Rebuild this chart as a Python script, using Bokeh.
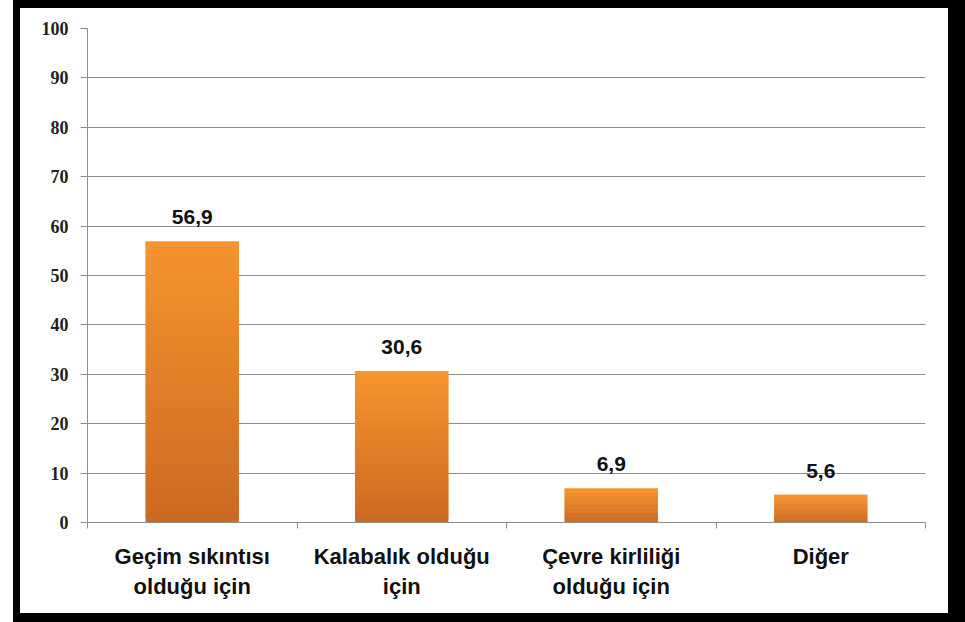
from bokeh.plotting import figure
from bokeh.models import FixedTicker, Range1d, ColumnDataSource
from bokeh.core.properties import value
from bokeh.embed import file_html
from bokeh.resources import INLINE

categories = ["Geçim sıkıntısı\nolduğu için", "Kalabalık olduğu\niçin",
              "Çevre kirliliği\nolduğu için", "Diğer"]
values = [56.9, 30.6, 6.9, 5.6]
y_ticks = [0, 10, 20, 30, 40, 50, 60, 70, 80, 90, 100]

positions = [i + 0.5 for i in range(len(categories))]
bar_w = 0.445

p = figure(width=952, height=622, x_range=Range1d(0, 4), y_range=Range1d(0, 100),
           output_backend="svg", toolbar_location=None,
           min_border_left=67, min_border_right=47, min_border_top=20, min_border_bottom=108)
p.styles = {"margin-left": "13px", "border-left": "7px solid black", "border-top": "8px solid black",
            "border-right": "17px solid black", "border-bottom": "9px solid black"}
p.outline_line_color = None
p.background_fill_color = "white"
p.border_fill_color = "white"

# gradient bars built from overlapping strips
N = 60
top_c = (247, 148, 48)
bot_c = (204, 105, 33)
L, R, B, T, C = [], [], [], [], []
for x, v in zip(positions, values):
    for k in range(N):
        f0 = k / N
        f1 = min(1.0, (k + 2) / N)
        fm = (k + 0.5) / N
        col = tuple(int(round(bot_c[j] + (top_c[j] - bot_c[j]) * fm)) for j in range(3))
        L.append(x - bar_w / 2)
        R.append(x + bar_w / 2)
        B.append(v * f0)
        T.append(v * f1)
        C.append("#%02x%02x%02x" % col)
src = ColumnDataSource(dict(left=L, right=R, bottom=B, top=T, color=C))
p.quad(left="left", right="right", bottom="bottom", top="top", fill_color="color",
       line_color=None, source=src)

labels = [("%.1f" % v).replace(".", ",") for v in values]
p.text(x=positions, y=values, text=labels, text_align="center", text_baseline="bottom",
       y_offset=-17, text_font=value("Liberation Sans"), text_font_style="bold",
       text_font_size="21px", text_color="#111111")

grid_c = "#8c8c8c"
p.xgrid.grid_line_color = None
p.ygrid.ticker = FixedTicker(ticks=y_ticks)
p.ygrid.grid_line_color = grid_c
p.ygrid.grid_line_width = 1

ya = p.yaxis[0]
ya.ticker = FixedTicker(ticks=y_ticks)
ya.axis_line_color = grid_c
ya.major_tick_line_color = grid_c
ya.major_tick_out = 7
ya.major_tick_in = 0
ya.minor_tick_line_color = None
ya.major_label_standoff = 12
ya.major_label_text_font = "Liberation Serif"
ya.major_label_text_font_style = "bold"
ya.major_label_text_font_size = "18px"
ya.major_label_text_color = "#222222"

xa = p.xaxis[0]
xa.ticker = FixedTicker(ticks=positions, minor_ticks=[0, 1, 2, 3, 4])
xa.major_label_overrides = {pos: cat for pos, cat in zip(positions, categories)}
xa.axis_line_color = grid_c
xa.major_tick_line_color = None
xa.major_tick_out = 0
xa.major_tick_in = 0
xa.minor_tick_line_color = grid_c
xa.minor_tick_out = 6
xa.minor_tick_in = 0
xa.major_label_standoff = 15
xa.major_label_text_font = "Liberation Sans"
xa.major_label_text_font_style = "bold"
xa.major_label_text_font_size = "22px"
xa.major_label_text_color = "#111111"

open("out.html", "w").write(file_html(p, INLINE))
